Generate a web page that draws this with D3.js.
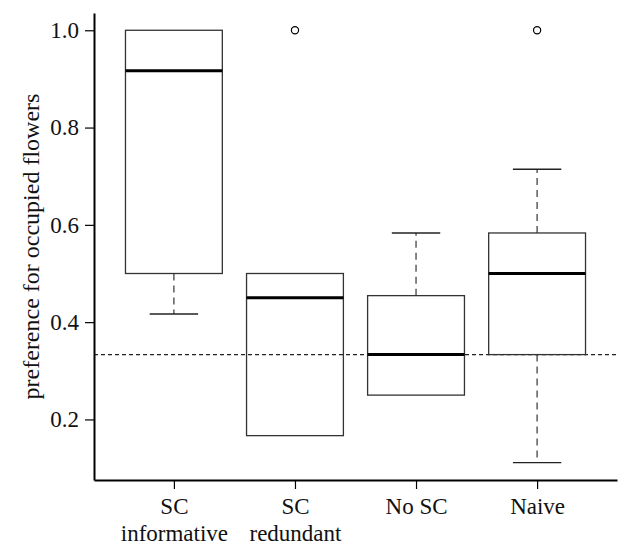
<!DOCTYPE html>
<html><head><meta charset="utf-8">
<script src="https://cdn.jsdelivr.net/npm/d3@7"></script>
<style>body{margin:0;background:#fff}svg{display:block}</style>
</head><body>
<script>
const categories = ["SC|informative", "SC|redundant", "No SC", "Naive"];
const whiskerLow = [0.4167, 0.1667, 0.25, 0.1111];
const q1 = [0.5, 0.1667, 0.25, 0.3333];
const medians = [0.9167, 0.45, 0.3333, 0.5];
const q3 = [1.0, 0.5, 0.4545, 0.5833];
const whiskerHigh = [1.0, 0.5, 0.5833, 0.7143];
const outliers = [[], [1.0], [], [1.0]];
const yTicks = [0.2, 0.4, 0.6, 0.8, 1.0];
const refLine = 1/3;
const yLabel = "preference for occupied flowers";

const W = 621, H = 546;
const svg = d3.select("body").append("svg").attr("width", W).attr("height", H);
const font = "'Liberation Serif', 'Times New Roman', serif";

const x = d3.scaleLinear().domain([0.34, 4.66]).range([94, 617]);
const y = d3.scaleLinear().domain([0.0755, 1.0355]).range([480, 13]);
const boxHalf = (x(1.4) - x(1));
const capHalf = boxHalf / 2;

const data = categories.map((c, i) => ({c, i: i + 1, lo: whiskerLow[i], q1: q1[i], med: medians[i], q3: q3[i], hi: whiskerHigh[i], out: outliers[i]}));

// reference line
svg.append("line")
  .attr("x1", x(0.34)).attr("x2", x(4.66))
  .attr("y1", y(refLine)).attr("y2", y(refLine))
  .attr("stroke", "#222").attr("stroke-width", 1.2).attr("stroke-dasharray", "4,3");

const g = svg.append("g").selectAll("g").data(data).join("g");
g.each(function(d) {
  const s = d3.select(this);
  const cx = x(d.i);
  if (d.hi > d.q3) {
    s.append("line").attr("x1", cx).attr("x2", cx).attr("y1", y(d.q3)).attr("y2", y(d.hi))
      .attr("stroke", "#333").attr("stroke-width", 1.2).attr("stroke-dasharray", "7,5");
    s.append("line").attr("x1", cx - capHalf).attr("x2", cx + capHalf).attr("y1", y(d.hi)).attr("y2", y(d.hi))
      .attr("stroke", "#222").attr("stroke-width", 1.3);
  }
  if (d.lo < d.q1) {
    s.append("line").attr("x1", cx).attr("x2", cx).attr("y1", y(d.q1)).attr("y2", y(d.lo))
      .attr("stroke", "#333").attr("stroke-width", 1.2).attr("stroke-dasharray", "7,5");
    s.append("line").attr("x1", cx - capHalf).attr("x2", cx + capHalf).attr("y1", y(d.lo)).attr("y2", y(d.lo))
      .attr("stroke", "#222").attr("stroke-width", 1.3);
  }
  s.append("rect").attr("x", cx - boxHalf).attr("width", 2 * boxHalf)
    .attr("y", y(d.q3)).attr("height", y(d.q1) - y(d.q3))
    .attr("fill", "none").attr("stroke", "#333").attr("stroke-width", 1.3);
  s.append("line").attr("x1", cx - boxHalf).attr("x2", cx + boxHalf).attr("y1", y(d.med)).attr("y2", y(d.med))
    .attr("stroke", "#000").attr("stroke-width", 3);
  s.selectAll("circle").data(d.out).join("circle")
    .attr("cx", cx).attr("cy", v => y(v)).attr("r", 3.6)
    .attr("fill", "none").attr("stroke", "#000").attr("stroke-width", 1.2);
});

// axes
const ya = svg.append("g").attr("transform", `translate(${x(0.34)},0)`)
  .call(d3.axisLeft(y).tickValues(yTicks).tickFormat(d3.format(".1f")).tickSize(9).tickSizeOuter(0).tickPadding(6));
ya.select(".domain").attr("stroke", "#000").attr("stroke-width", 2);
ya.selectAll(".tick line").attr("stroke", "#000").attr("stroke-width", 1.2);
ya.selectAll(".tick text").attr("font-family", font).attr("font-size", 23).attr("fill", "#111");

const xa = svg.append("g").attr("transform", `translate(0,${y(0.0755)})`)
  .call(d3.axisBottom(x).tickValues([1, 2, 3, 4]).tickFormat(() => "").tickSize(9).tickSizeOuter(0));
xa.select(".domain").attr("stroke", "#000").attr("stroke-width", 2);
xa.selectAll(".tick line").attr("stroke", "#000").attr("stroke-width", 1.2);
xa.selectAll(".tick").each(function(v) {
  const lines = categories[v - 1].split("|");
  const t = d3.select(this).append("text").attr("font-family", font).attr("font-size", 23)
    .attr("fill", "#111").attr("text-anchor", "middle");
  lines.forEach((l, k) => t.append("tspan").attr("x", 0).attr("y", 34 + k * 27).text(l));
});

svg.append("text").attr("transform", `translate(39,${(13 + 480) / 2}) rotate(-90)`)
  .attr("text-anchor", "middle")
  .attr("font-family", font).attr("font-size", 24).attr("fill", "#111").text(yLabel);
</script>
</body></html>
